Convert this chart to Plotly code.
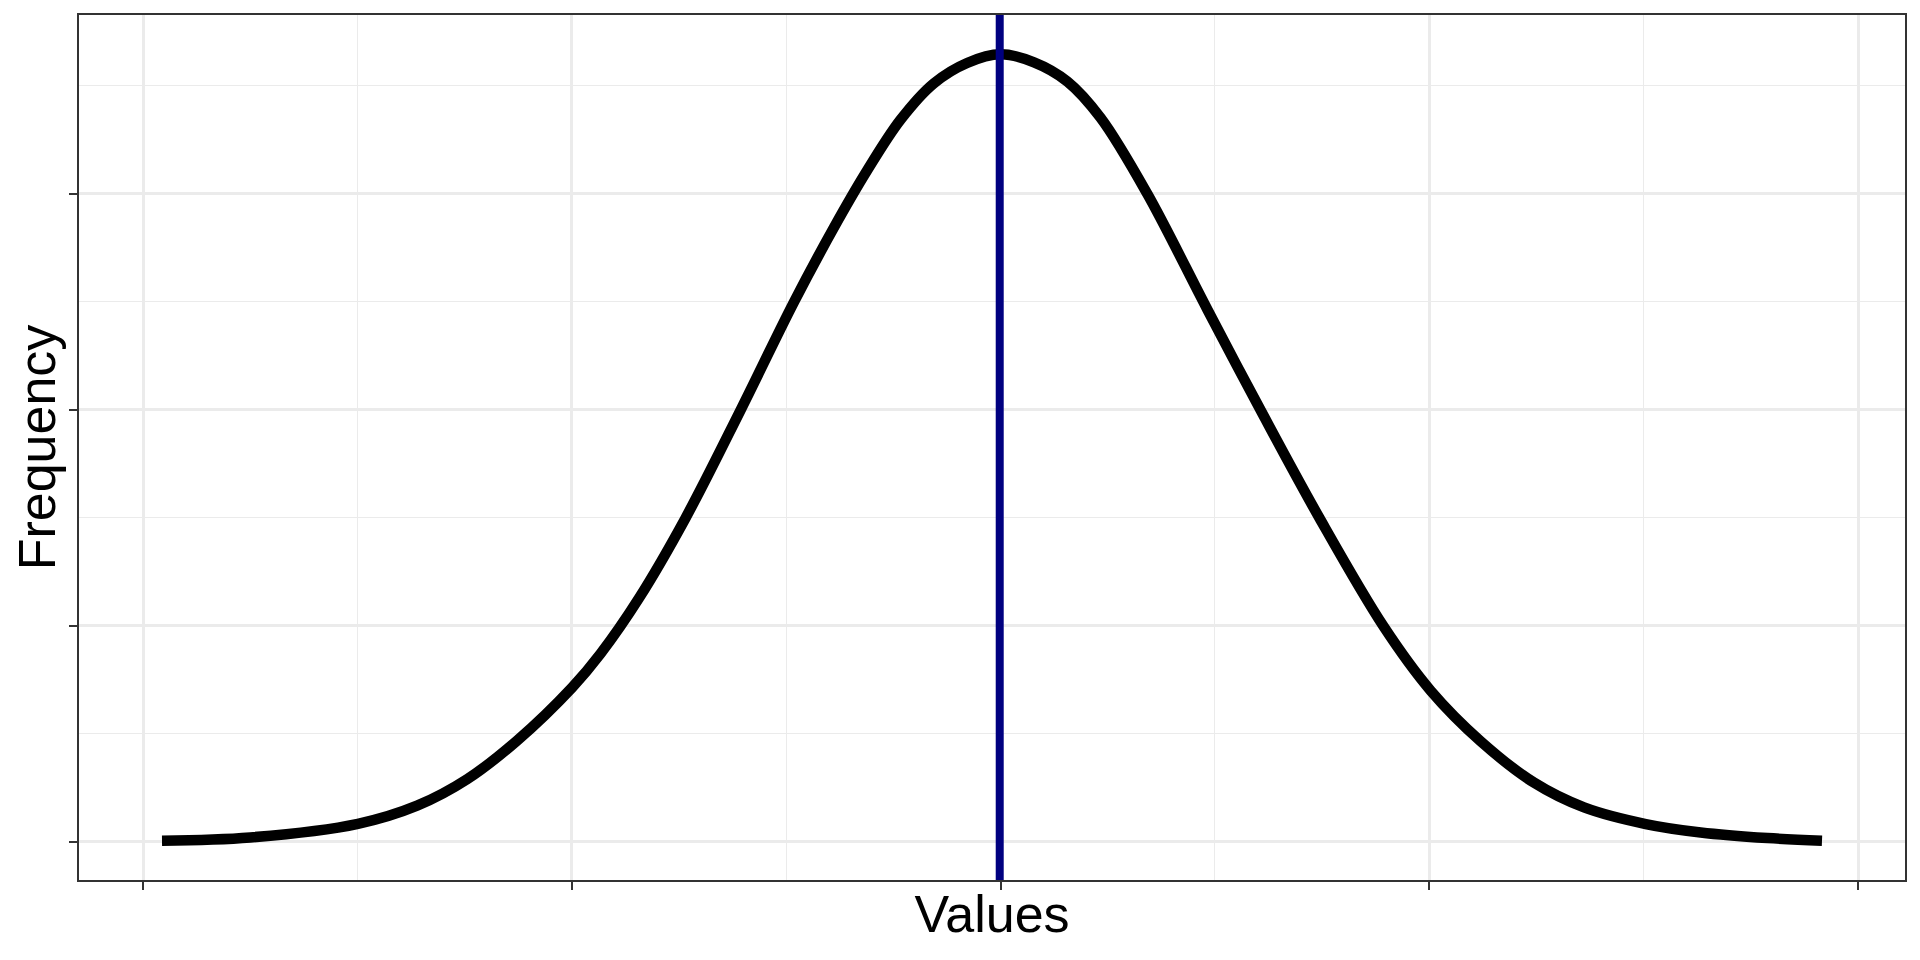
import plotly.graph_objects as go

# Density curve (x in axis units, y in density units)
curve_x = [-1.956, -1.750, -1.499, -1.361, -1.244, -1.128, -0.999, -0.933, -0.844,
           -0.735, -0.607, -0.482, -0.389, -0.311, -0.233, -0.156, -0.078, 0.000,
           0.078, 0.156, 0.233, 0.342, 0.482, 0.607, 0.744, 0.893, 1.003, 1.120,
           1.244, 1.361, 1.505, 1.633, 1.789, 1.916]
curve_y = [0.0005, 0.0020, 0.0083, 0.0167, 0.0290, 0.0468, 0.0715, 0.0871, 0.1126,
           0.1498, 0.1996, 0.2498, 0.2842, 0.3108, 0.3343, 0.3510, 0.3605, 0.3645,
           0.3608, 0.3519, 0.3352, 0.3000, 0.2465, 0.1996, 0.1498, 0.0998, 0.0700,
           0.0465, 0.0274, 0.0159, 0.0082, 0.0043, 0.0017, 0.0005]

mean_value = -0.002

x_major = [-2, -1, 0, 1, 2]
x_minor = [-1.5, -0.5, 0.5, 1.5]
y_major = [0.0, 0.1, 0.2, 0.3]
y_minor = [0.05, 0.15, 0.25, 0.35]

x_title = "Values"
y_title = "Frequency"

def expand(vals, f=0.05):
    lo, hi = min(vals), max(vals)
    d = (hi - lo) * f
    return [lo - d, hi + d]

fig = go.Figure()
fig.add_trace(go.Scatter(
    x=curve_x, y=curve_y, mode="lines",
    line=dict(color="black", width=10.5, shape="spline", smoothing=1.0),
    hoverinfo="skip", showlegend=False,
))

fig.add_shape(type="line", xref="x", yref="paper", x0=mean_value, x1=mean_value,
              y0=0, y1=1, line=dict(color="#000080", width=8), layer="above")

font_family = "Liberation Sans, Arial, sans-serif"
grid = "#EBEBEB"

fig.update_layout(
    width=1920, height=960,
    margin=dict(l=71, r=23, t=7, b=88, autoexpand=False),
    paper_bgcolor="white", plot_bgcolor="white",
    font=dict(family=font_family, color="black"),
    showlegend=False,
)

common = dict(
    showticklabels=False,
    ticks="outside", ticklen=8, tickwidth=2, tickcolor="#333333",
    showgrid=True, gridcolor=grid, gridwidth=2.5,
    showline=True, linecolor="#333333", linewidth=1.5, mirror=True,
    zeroline=False, automargin=False,
)

fig.update_xaxes(
    range=expand(curve_x), tickvals=x_major,
    minor=dict(tickvals=x_minor, showgrid=True, gridcolor=grid, gridwidth=1.2, ticks=""),
    title=dict(text=x_title, font=dict(size=52, family=font_family, color="black"), standoff=7),
    **common,
)
fig.update_yaxes(
    range=expand(curve_y), tickvals=y_major,
    minor=dict(tickvals=y_minor, showgrid=True, gridcolor=grid, gridwidth=1.2, ticks=""),
    title=dict(text=y_title, font=dict(size=52, family=font_family, color="black"), standoff=1),
    **common,
)

fig.write_html("out.html")
